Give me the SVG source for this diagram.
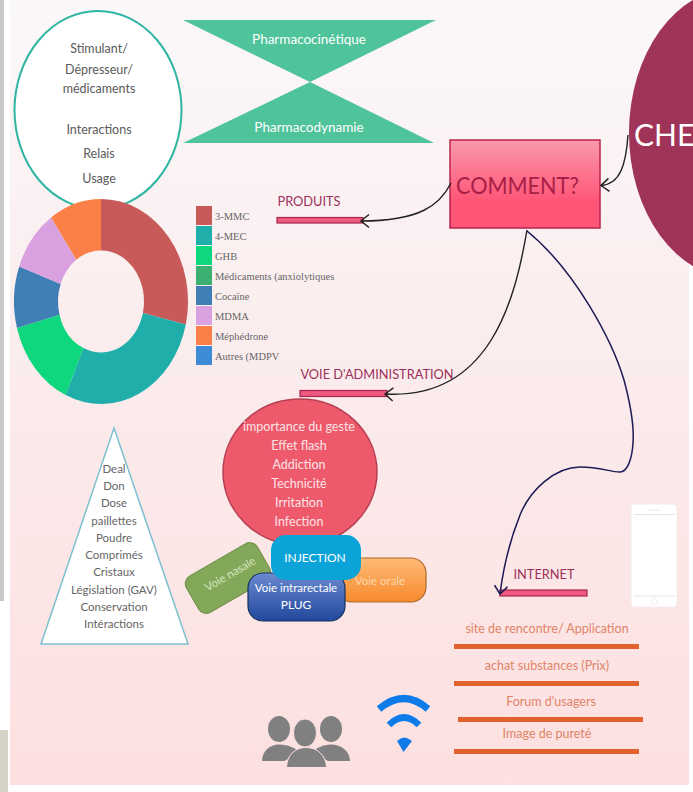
<svg xmlns="http://www.w3.org/2000/svg" width="693" height="792" viewBox="0 0 693 792">
<defs>
<linearGradient id="bg" x1="0" y1="0" x2="0" y2="1"><stop offset="0" stop-color="#fbf8f9"/><stop offset="0.5" stop-color="#fbebec"/><stop offset="1" stop-color="#fde0e0"/></linearGradient>
<linearGradient id="boxg" x1="0" y1="0" x2="0" y2="1"><stop offset="0" stop-color="#f999aa"/><stop offset="0.7" stop-color="#ff5577"/><stop offset="1" stop-color="#ff5577"/></linearGradient>
<linearGradient id="org" x1="0" y1="0" x2="0" y2="1"><stop offset="0" stop-color="#ffbb77"/><stop offset="1" stop-color="#f68a2c"/></linearGradient>
<linearGradient id="blu" x1="0" y1="0" x2="0" y2="1"><stop offset="0" stop-color="#6a8ad0"/><stop offset="1" stop-color="#21489c"/></linearGradient>
<marker id="arr" markerWidth="14" markerHeight="16" refX="11" refY="8" orient="auto" markerUnits="userSpaceOnUse"><path d="M3 1.500L11 8L3 14.500" fill="none" stroke="#222" stroke-width="1.5"/></marker>
<marker id="arrn" markerWidth="14" markerHeight="16" refX="11" refY="8" orient="auto" markerUnits="userSpaceOnUse"><path d="M3 1.500L11 8L3 14.500" fill="none" stroke="#1c1a55" stroke-width="1.5"/></marker>
</defs>
<style>
text{font-family:Lato,"Liberation Sans",sans-serif;text-anchor:middle}
.dk{fill:#5a5a5a;font-size:12.5px}
.tri{fill:#666;font-size:11.5px}
.wh{fill:#fff;font-size:12px}
.rd{fill:#fbe3e5;font-size:12.5px}
.lg{font-family:"Liberation Serif",serif;font-size:10.5px;fill:#666;text-anchor:start}
.lab{fill:#9c305a;font-size:12.8px}
.or{fill:#e08468;font-size:12.5px}
.bar{fill:#ef5a80;stroke:#a6264e;stroke-width:1.2}
.ln{fill:#e2622f}
.c{fill:none;stroke:#222;stroke-width:1.4}
</style>
<rect width="693" height="792" fill="#fff"/>
<rect x="0" y="0" width="4" height="601" fill="#c8c8c8"/>
<rect x="0" y="730" width="8" height="62" fill="#d6d2c6"/>
<rect x="10" y="0" width="679" height="785" fill="url(#bg)"/>

<g id="node-che"><ellipse cx="735" cy="133" rx="106" ry="145" fill="#a03458"/><text x="634" y="146" style="font-size:30px;text-anchor:start;fill:#fff">CHE</text></g>

<g id="node-profil"><ellipse cx="98" cy="110" rx="83.5" ry="99" fill="#fff" stroke="#2fb5a2" stroke-width="2"/>
<text class="dk" x="99" y="53">Stimulant/</text><text class="dk" x="99" y="74">Dépresseur/</text><text class="dk" x="99" y="93">médicaments</text><text class="dk" x="99" y="134">Interactions</text><text class="dk" x="99" y="158">Relais</text><text class="dk" x="99" y="183">Usage</text></g>

<g id="node-pharma"><path d="M183 20H436L310 82ZM183 143H434L310 82Z" fill="#4fc39a"/>
<text class="wh" x="309" y="44" style="font-size:13.5px">Pharmacocinétique</text><text class="wh" x="309" y="132" style="font-size:13.5px">Pharmacodynamie</text></g>

<g id="node-donut">
<path d="M101 199A87 102.500 0 0 1 185.800 324.600L142.900 313A43 51 0 0 0 101 250.500Z" fill="#c85a5a"/>
<path d="M185.800 324.600A87 102.500 0 0 1 65.600 395.100L83.500 348.100A43 51 0 0 0 142.900 313Z" fill="#20aeaa"/>
<path d="M65.600 395.100A87 102.500 0 0 1 17 328L59.500 314.700A43 51 0 0 0 83.500 348.100Z" fill="#0fd77e"/>
<path d="M17 328A87 102.500 0 0 1 19.200 266.400L60.600 284.100A43 51 0 0 0 59.500 314.700Z" fill="#3f7fb5"/>
<path d="M19.200 266.400A87 102.500 0 0 1 51.100 217.500L76.300 259.700A43 51 0 0 0 60.600 284.100Z" fill="#d9a1e0"/>
<path d="M51.100 217.500A87 102.500 0 0 1 101 199V250.500A43 51 0 0 0 76.300 259.700Z" fill="#fb8047"/>
</g>

<g id="legend">
<rect x="196" y="206" width="16" height="19" fill="#c85a5a"/><text class="lg" x="215" y="220">3-MMC</text>
<rect x="196" y="226" width="16" height="19" fill="#20aeaa"/><text class="lg" x="215" y="240">4-MEC</text>
<rect x="196" y="246" width="16" height="19" fill="#0fd77e"/><text class="lg" x="215" y="260">GHB</text>
<rect x="196" y="266" width="16" height="19" fill="#3cb072"/><text class="lg" x="215" y="280">Médicaments (anxiolytiques</text>
<rect x="196" y="286" width="16" height="19" fill="#3f7fb5"/><text class="lg" x="215" y="300">Cocaïne</text>
<rect x="196" y="306" width="16" height="19" fill="#d9a1e0"/><text class="lg" x="215" y="320">MDMA</text>
<rect x="196" y="326" width="16" height="19" fill="#fb8047"/><text class="lg" x="215" y="340">Méphédrone</text>
<rect x="196" y="346" width="16" height="19" fill="#408bd6"/><text class="lg" x="215" y="360">Autres (MDPV</text>
</g>

<g id="node-comment"><rect x="450" y="140" width="150" height="88" fill="url(#boxg)" stroke="#b8254f" stroke-width="1.5"/><text x="456" y="194" textLength="123" lengthAdjust="spacingAndGlyphs" style="font-size:24px;fill:#a91e48;text-anchor:start">COMMENT?</text></g>

<g id="node-produits"><text class="lab" x="309" y="206">PRODUITS</text><rect class="bar" x="277" y="217.500" width="86" height="5.500"/></g>
<g id="node-voie"><text class="lab" x="377" y="379">VOIE D'ADMINISTRATION</text><rect class="bar" x="300" y="390.500" width="87" height="6"/></g>
<g id="node-internet"><text class="lab" x="544" y="579">INTERNET</text><rect class="bar" x="500" y="590" width="87" height="6"/></g>

<g id="connectors">
<path class="c" d="M628 135C626 165 620 184 601 185.500" marker-end="url(#arr)"/>
<path class="c" d="M451 183C440 205 420 221 361 221" marker-end="url(#arr)"/>
<path class="c" d="M527 230C515 300 490 400 385 394" marker-end="url(#arr)"/>
<path d="M527 231C575 270 612 340 624 380C632 410 634 430 633 443C632 460 627 472 620 472C610 472 600 467 580 467C555 467 530 490 520 515C510 540 503 570 500 594" fill="none" stroke="#1c1a55" stroke-width="1.5" marker-end="url(#arrn)"/>
</g>

<g id="node-triangle"><path d="M114 428L188 644H41Z" fill="#fff" stroke="#7cc0d0" stroke-width="1.5"/>
<text class="tri" x="114" y="473">Deal</text><text class="tri" x="114" y="490">Don</text><text class="tri" x="114" y="507">Dose</text><text class="tri" x="114" y="525">paillettes</text><text class="tri" x="114" y="542">Poudre</text><text class="tri" x="114" y="559">Comprimés</text><text class="tri" x="114" y="576">Cristaux</text><text class="tri" x="114" y="594">Législation (GAV)</text><text class="tri" x="114" y="611">Conservation</text><text class="tri" x="114" y="628">Intéractions</text></g>

<g id="node-injection-effets"><ellipse cx="300" cy="472" rx="77" ry="73" fill="#ee5a6c" stroke="#b53f52" stroke-width="1.5"/>
<text class="rd" x="299" y="431">importance du geste</text><text class="rd" x="299" y="450">Effet flash</text><text class="rd" x="299" y="469">Addiction</text><text class="rd" x="299" y="488">Technicité</text><text class="rd" x="299" y="507">Irritation</text><text class="rd" x="299" y="526">Infection</text></g>

<g id="node-nasale"><rect x="-41" y="-21" width="82" height="42" rx="9" transform="translate(228 578) rotate(-30)" fill="#84a85a" stroke="#6f9048"/><text x="230" y="578" transform="rotate(-30 230 574)" style="font-size:11.500px;fill:#d5e4c0">Voie nasale</text></g>
<g id="node-orale"><rect x="337" y="558" width="89" height="44" rx="15" fill="url(#org)" stroke="#a96a2b" stroke-width="1.2"/><text x="380" y="585" style="font-size:11.500px;fill:#fcd5ac">Voie orale</text></g>
<g id="node-plug"><rect x="248" y="573" width="97" height="48" rx="15" fill="url(#blu)" stroke="#13335f" stroke-width="1.2"/><text class="wh" x="296" y="592" style="font-size:11.500px">Voie intrarectale</text><text class="wh" x="296" y="609">PLUG</text></g>
<g id="node-inj"><rect x="271" y="535" width="90" height="45" rx="15" fill="#0ba3d8"/><text class="wh" x="315" y="562">INJECTION</text></g>

<g id="node-phone"><rect x="631" y="504" width="46" height="103" rx="4" fill="#fff" stroke="#f3ecec"/><path d="M634 514.500H675M634 596H675M649 510H659" fill="none" stroke="#e8e4e4"/><circle cx="654" cy="601.500" r="3" fill="none" stroke="#eee"/></g>

<g id="node-liste">
<text class="or" x="547" y="633">site de rencontre/ Application</text><rect class="ln" x="454" y="644" width="185" height="5"/>
<text class="or" x="547" y="670">achat substances (Prix)</text><rect class="ln" x="454" y="681" width="185" height="5"/>
<text class="or" x="551" y="706">Forum d'usagers</text><rect class="ln" x="458" y="717" width="185" height="5"/>
<text class="or" x="547" y="738">Image de pureté</text><rect class="ln" x="454" y="749" width="185" height="5"/>
</g>

<g id="icon-people" fill="#808080"><ellipse cx="279" cy="729" rx="11" ry="13"/><ellipse cx="331" cy="729" rx="11" ry="13"/><path d="M262 761C262 751 270 744.500 279 744.500C288 744.500 296 748 300 753L284 761Z"/><path d="M350 761C350 751 341 744.500 331 744.500C323 744.500 316 748 312 753L328 761Z"/><g stroke="#fde0e0" stroke-width="1"><ellipse cx="305" cy="733" rx="11.500" ry="14"/><path d="M286.500 767.500C287 755 295 747.500 306 747.500C317 747.500 326 755 326.500 767.500Z"/></g></g>
<g id="icon-wifi"><path d="M379 709Q404 688 428 709" fill="none" stroke="#0f7be8" stroke-width="7"/><path d="M389 725Q404 710 419 725" fill="none" stroke="#0f7be8" stroke-width="6.500"/><path d="M397 741Q404 734 412 741L403.500 752Z" fill="#0f7be8"/></g>
</svg>
